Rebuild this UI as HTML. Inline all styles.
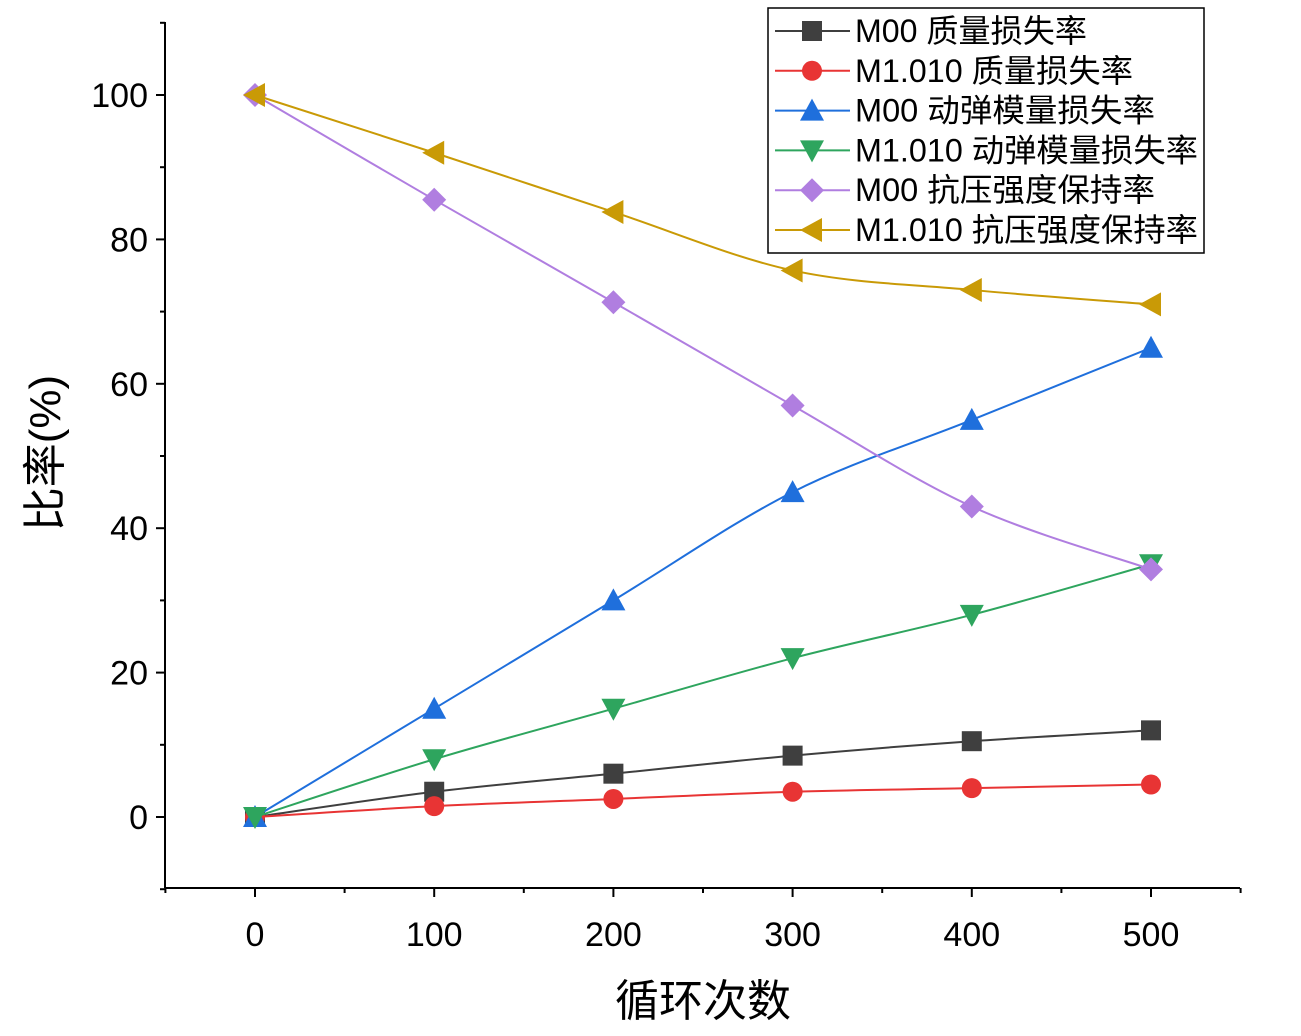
<!DOCTYPE html>
<html><head><meta charset="utf-8"><style>
body{margin:0;background:#fff;}
svg text{font-family:"Liberation Sans","Noto Sans CJK SC",sans-serif;}
</style></head><body>
<svg id="chart" width="1301" height="1031" xmlns="http://www.w3.org/2000/svg"></svg>
<script>
const categories=[0,100,200,300,400,500];
const seriesNames=["M00 质量损失率","M1.010 质量损失率","M00 动弹模量损失率","M1.010 动弹模量损失率","M00 抗压强度保持率","M1.010 抗压强度保持率"];
const m00Mass=[0,3.5,6,8.5,10.5,12];
const m1010Mass=[0,1.5,2.5,3.5,4,4.5];
const m00Dyn=[0,15,30,45,55,65];
const m1010Dyn=[0,8,15,22,28,35];
const m00Comp=[100,85.5,71.3,57,43,34.3];
const m1010Comp=[100,92,83.8,75.7,73,71];
const yTicks=[0,20,40,60,80,100];
const xTicks=[0,100,200,300,400,500];

const svg=document.getElementById('chart');
const NS="http://www.w3.org/2000/svg";
const X=v=>255+(v-0)*(1151-255)/500;
const Y=v=>817-(v)*(817-95)/100;
function mk(t,a,parent){const e=document.createElementNS(NS,t);for(const k in a)e.setAttribute(k,a[k]);(parent||svg).appendChild(e);return e;}

const axes=mk('g',{});


mk('line',{x1:165,y1:22,x2:165,y2:888,stroke:'#000','stroke-width':2},axes);
mk('line',{x1:165,y1:888,x2:1240,y2:888,stroke:'#000','stroke-width':2},axes);
for(let v=-10;v<=110;v+=10){const maj=v%20===0;mk('line',{x1:165-(maj?9:5),y1:Y(v),x2:165,y2:Y(v),stroke:'#000','stroke-width':2},axes);}
for(let v=-50;v<=550;v+=50){const maj=v%100===0;mk('line',{x1:X(v),y1:888,x2:X(v),y2:888+(maj?9:5),stroke:'#000','stroke-width':2},axes);}
yTicks.forEach(v=>{const t=mk('text',{x:148,y:Y(v)+12,'text-anchor':'end','font-size':34},axes);t.textContent=v;
});
xTicks.forEach(v=>{const t=mk('text',{x:X(v),y:946,'text-anchor':'middle','font-size':34},axes);t.textContent=v;
});
const xt=mk('text',{x:703,y:1016,'text-anchor':'middle','font-size':44});xt.textContent='循环次数';

const yt=mk('text',{x:0,y:0,'text-anchor':'middle','font-size':44,transform:'translate(60,453) rotate(-90)'});yt.textContent='比率(%)';


const colors=['#3f3f3f','#e83434','#1f6fdc','#2ea55e','#b07ee0','#c99a06'];
const shapes=['square','circle','up','down','diamond','left'];
const data=[m00Mass,m1010Mass,m00Dyn,m1010Dyn,m00Comp,m1010Comp];

function marker(g,shape,cx,cy,c){
 const s=10;
 if(shape==='square')return mk('rect',{x:cx-s,y:cy-s,width:2*s,height:2*s,fill:c},g);
 if(shape==='circle')return mk('circle',{cx,cy,r:s,fill:c},g);
 let p;
 if(shape==='up')p=[[cx,cy-12],[cx+12,cy+10],[cx-12,cy+10]];
 if(shape==='down')p=[[cx,cy+12],[cx+12,cy-10],[cx-12,cy-10]];
 if(shape==='diamond')p=[[cx,cy-12],[cx+12,cy],[cx,cy+12],[cx-12,cy]];
 if(shape==='left')p=[[cx-12,cy],[cx+10,cy-12],[cx+10,cy+12]];
 return mk('polygon',{points:p.map(q=>q.join(',')).join(' '),fill:c},g);
}
function spline(pts){
 let d=`M${pts[0][0]},${pts[0][1]}`;
 for(let i=0;i<pts.length-1;i++){
  const p0=pts[Math.max(0,i-1)],p1=pts[i],p2=pts[i+1],p3=pts[Math.min(pts.length-1,i+2)];
  const c1=[p1[0]+(p2[0]-p0[0])/6,p1[1]+(p2[1]-p0[1])/6];
  const c2=[p2[0]-(p3[0]-p1[0])/6,p2[1]-(p3[1]-p1[1])/6];
  d+=` C${c1[0]},${c1[1]} ${c2[0]},${c2[1]} ${p2[0]},${p2[1]}`;
 }
 return d;
}
data.forEach((arr,i)=>{
 const g=mk('g',{});
 
 
 const pts=arr.map((v,j)=>[X(categories[j]),Y(v)]);
 mk('path',{d:spline(pts),fill:'none',stroke:colors[i],'stroke-width':2},g);
 pts.forEach(p=>{const m=marker(g,shapes[i],p[0],p[1],colors[i]);
  });
});

const lg=mk('g',{});


mk('rect',{x:768,y:8,width:436,height:245,fill:'#fff',stroke:'#000','stroke-width':1.5},lg);
seriesNames.forEach((n,i)=>{
 const y=31+i*39.8;
 const e=mk('g',{},lg);
 
 
 mk('line',{x1:775,y1:y,x2:850,y2:y,stroke:colors[i],'stroke-width':2},e);
 marker(e,shapes[i],812,y,colors[i]);
 const t=mk('text',{x:855,y:y+11,'font-size':32,textLength:(n.startsWith('M1')?(n.length>12?343:278):(n.length>10?300:232)),lengthAdjust:'spacingAndGlyphs'},e);t.textContent=n;
});
</script>
</body></html>
